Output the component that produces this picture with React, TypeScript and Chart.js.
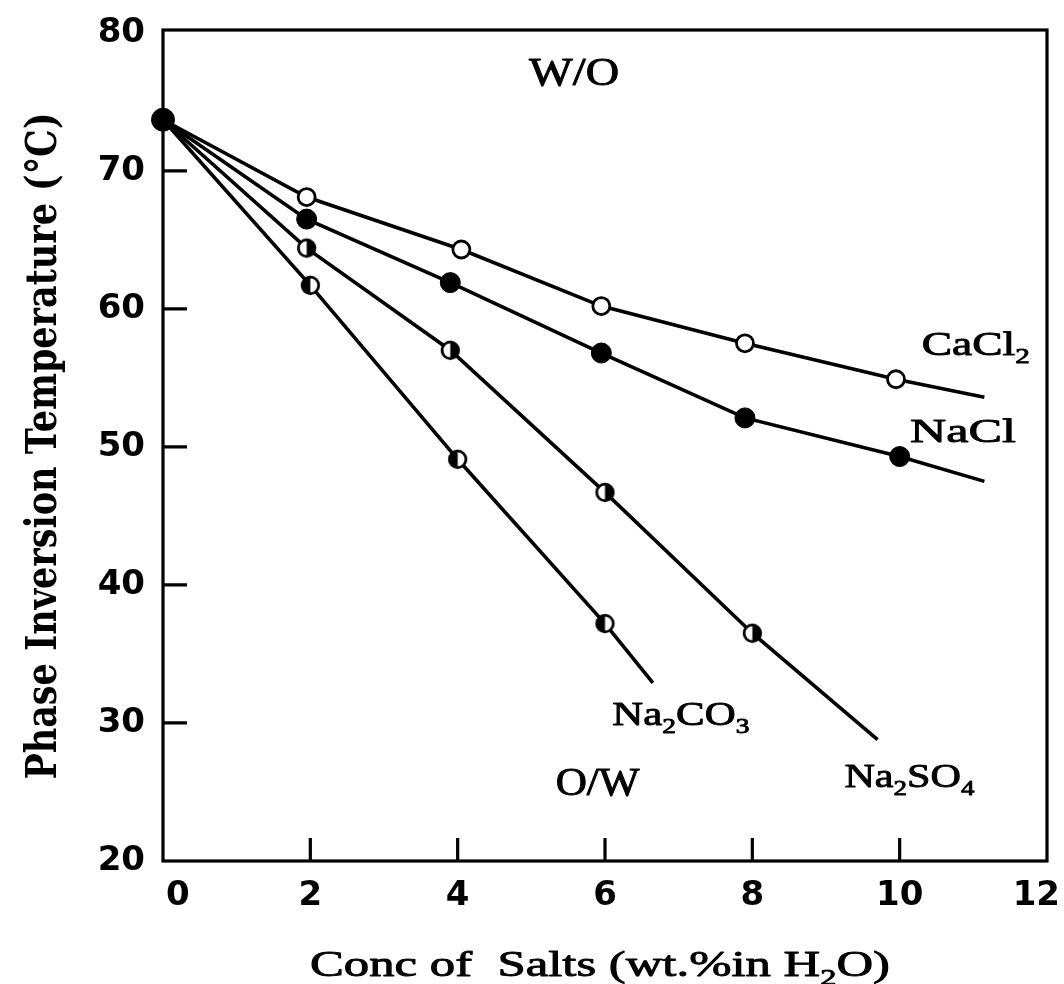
import React, { useEffect, useRef } from "react";
import { Chart, registerables } from "chart.js";

Chart.register(...registerables);

const W = 1064;
const H = 984;

// ---- data ----
const originX = [0];
const originY = [73.7];

const caCl2X = [0, 1.95, 4.05, 5.95, 7.9, 9.95, 11.15];
const caCl2Y = [73.7, 68.1, 64.3, 60.2, 57.5, 54.9, 53.6];

const naClX = [0, 1.95, 3.9, 5.95, 7.9, 10.0, 11.15];
const naClY = [73.7, 66.5, 61.9, 56.8, 52.1, 49.3, 47.5];

const na2SO4X = [0, 1.95, 3.9, 6.0, 8.0, 9.7];
const na2SO4Y = [73.7, 64.4, 57.0, 46.7, 36.5, 28.8];

const na2CO3X = [0, 2.0, 4.0, 6.0, 6.65];
const na2CO3Y = [73.7, 61.7, 49.1, 37.2, 32.9];

const xTickValues = [0, 2, 4, 6, 8, 10, 12];
const xTickLabels = ["0", "2", "4", "6", "8", "10", "12"];
const yTickValues = [20, 30, 40, 50, 60, 70, 80];
const xInnerTicks = [2, 4, 6, 8, 10];
const yInnerTicks = [30, 40, 50, 60, 70];

const yTitle = "Phase Inversion Temperature (°C)";
const xTitleSegs = [{ t: "Conc of  Salts (wt.%in H" }, { t: "2", sub: true }, { t: "O)" }];

// annotation texts anchored at data coordinates (left edge, baseline)
const annotations = [
  { segs: [{ t: "W/O" }], x: 4.97, y: 76.2, size: 40, width: 90 },
  { segs: [{ t: "O/W" }], x: 5.33, y: 24.8, size: 40, width: 84 },
  { segs: [{ t: "CaCl" }, { t: "2", sub: true }], x: 10.3, y: 56.67, size: 34, width: 108 },
  { segs: [{ t: "NaCl" }], x: 10.14, y: 50.36, size: 34, width: 106 },
  { segs: [{ t: "Na" }, { t: "2", sub: true }, { t: "CO" }, { t: "3", sub: true }], x: 6.1, y: 29.86, size: 34, width: 137 },
  { segs: [{ t: "Na" }, { t: "2", sub: true }, { t: "SO" }, { t: "4", sub: true }], x: 9.25, y: 25.36, size: 34, width: 130 },
];

const pts = (xs: number[], ys: number[]) => xs.map((x, i) => ({ x, y: ys[i] }));

type Seg = { t: string; sub?: boolean };

function drawRich(
  ctx: CanvasRenderingContext2D,
  segs: Seg[],
  x: number,
  y: number,
  size: number,
  family: string,
  weight: string,
  targetW: number | null,
  align: "left" | "center",
  stroke: number
) {
  let total = 0;
  const parts = segs.map((s) => {
    const fs = s.sub ? size * 0.64 : size;
    ctx.font = `${weight} ${fs}px ${family}`;
    const w = ctx.measureText(s.t).width;
    total += w;
    return { s, fs, w };
  });
  const sx = targetW ? targetW / total : 1;
  ctx.save();
  ctx.translate(x, y);
  ctx.scale(sx, 1);
  ctx.textBaseline = "alphabetic";
  ctx.textAlign = "left";
  ctx.fillStyle = "#000";
  ctx.strokeStyle = "#000";
  ctx.lineWidth = stroke;
  ctx.lineJoin = "round";
  let cx = align === "center" ? -total / 2 : 0;
  for (const p of parts) {
    ctx.font = `${weight} ${p.fs}px ${family}`;
    const dy = p.s.sub ? size * 0.24 : 0;
    ctx.fillText(p.s.t, cx, dy);
    if (stroke > 0) ctx.strokeText(p.s.t, cx, dy);
    cx += p.w;
  }
  ctx.restore();
}

function halfMarker(side: "left" | "right", r: number) {
  const c = document.createElement("canvas");
  const s = Math.ceil(2 * r + 4);
  c.width = s;
  c.height = s;
  const g = c.getContext("2d")!;
  const cx = s / 2;
  const cy = s / 2;
  const rr = r - 1.2;
  g.beginPath();
  g.arc(cx, cy, rr, 0, 2 * Math.PI);
  g.fillStyle = "#fff";
  g.fill();
  g.beginPath();
  if (side === "left") g.arc(cx, cy, rr, Math.PI / 2, (3 * Math.PI) / 2);
  else g.arc(cx, cy, rr, -Math.PI / 2, Math.PI / 2);
  g.closePath();
  g.fillStyle = "#000";
  g.fill();
  g.beginPath();
  g.arc(cx, cy, rr, 0, 2 * Math.PI);
  g.lineWidth = 2.8;
  g.strokeStyle = "#000";
  g.stroke();
  return c;
}

const decoPlugin = {
  id: "deco",
  beforeDatasetsDraw(chart: any) {
    const { ctx, chartArea: a, scales } = chart;
    ctx.save();
    ctx.strokeStyle = "#000";
    ctx.lineWidth = 3.2;
    ctx.strokeRect(a.left, a.top, a.right - a.left, a.bottom - a.top);
    ctx.beginPath();
    for (const v of yInnerTicks) {
      const py = scales.y.getPixelForValue(v);
      ctx.moveTo(a.left, py);
      ctx.lineTo(a.left + 24, py);
    }
    for (const v of xInnerTicks) {
      const px = scales.x.getPixelForValue(v);
      ctx.moveTo(px, a.bottom);
      ctx.lineTo(px, a.bottom - 23);
    }
    ctx.stroke();
    ctx.restore();
  },
  afterDraw(chart: any) {
    const { ctx, chartArea: a, scales } = chart;
    ctx.save();
    // x tick labels
    ctx.font = "bold 34px 'DejaVu Sans'";
    ctx.fillStyle = "#000";
    ctx.textAlign = "center";
    ctx.textBaseline = "middle";
    xTickValues.forEach((v, i) => {
      const label = xTickLabels[i];
      const w = ctx.measureText(label).width;
      let px = scales.x.getPixelForValue(v);
      px = Math.max(px, a.left + w / 2 + 3);
      px = Math.min(px, W - w / 2 - 4);
      ctx.fillText(label, px, a.bottom + 35);
    });
    // annotations
    for (const an of annotations) {
      const px = scales.x.getPixelForValue(an.x);
      const py = scales.y.getPixelForValue(an.y);
      drawRich(ctx, an.segs, px, py, an.size, "'Liberation Serif'", "normal", an.width, "left", 0.9);
    }
    // x title
    drawRich(ctx, xTitleSegs, 600, 976, 36, "'Liberation Serif'", "normal", 580, "center", 0.9);
    // y title
    ctx.save();
    ctx.translate(56, 446);
    ctx.rotate(-Math.PI / 2);
    drawRich(ctx, [{ t: yTitle }], 0, 0, 42, "'DejaVu Serif'", "bold", 667, "center", 0);
    ctx.restore();
    ctx.restore();
  },
};

export default function App() {
  const ref = useRef<HTMLCanvasElement | null>(null);

  useEffect(() => {
    if (!ref.current) return;
    const leftHalf = halfMarker("left", 9.5);
    const rightHalf = halfMarker("right", 9.5);

    const endless = (n: number, r: number) => (c: any) =>
      c.dataIndex === 0 || c.dataIndex === n - 1 ? 0 : r;

    const base = {
      showLine: true,
      borderColor: "#000",
      borderWidth: 3.6,
      tension: 0,
      clip: false as any,
      pointBorderColor: "#000",
      pointHoverRadius: 0,
    };

    const chart = new Chart(ref.current, {
      type: "scatter",
      data: {
        datasets: [
          {
            ...base,
            label: "CaCl2",
            data: pts(caCl2X, caCl2Y),
            pointStyle: "circle",
            pointRadius: endless(caCl2X.length, 8.5),
            pointBackgroundColor: "#fff",
            pointBorderWidth: 2.8,
          },
          {
            ...base,
            label: "NaCl",
            data: pts(naClX, naClY),
            pointStyle: "circle",
            pointRadius: endless(naClX.length, 10),
            pointBackgroundColor: "#000",
            pointBorderWidth: 1,
          },
          {
            ...base,
            label: "Na2SO4",
            data: pts(na2SO4X, na2SO4Y),
            pointStyle: rightHalf as any,
            pointRadius: endless(na2SO4X.length, 9.5),
          },
          {
            ...base,
            label: "Na2CO3",
            data: pts(na2CO3X, na2CO3Y),
            pointStyle: leftHalf as any,
            pointRadius: endless(na2CO3X.length, 9.5),
          },
          {
            label: "origin",
            data: pts(originX, originY),
            showLine: false,
            clip: false as any,
            pointStyle: "circle",
            pointRadius: 11.5,
            pointBackgroundColor: "#000",
            pointBorderColor: "#000",
            pointBorderWidth: 1,
          },
        ],
      },
      options: {
        responsive: false,
        animation: false,
        devicePixelRatio: 1,
        events: [],
        layout: { padding: { top: 30, right: 17, left: 0, bottom: 0 } },
        plugins: {
          legend: { display: false },
          tooltip: { enabled: false },
          title: { display: false },
        },
        scales: {
          x: {
            type: "linear",
            min: 0,
            max: 12,
            grid: { display: false, drawTicks: false },
            border: { display: false },
            ticks: { display: false },
            afterBuildTicks: (s: any) => {
              s.ticks = xTickValues.map((v) => ({ value: v }));
            },
            afterFit: (s: any) => {
              s.height = 123;
              s.paddingLeft = 0;
              s.paddingRight = 0;
            },
          },
          y: {
            type: "linear",
            min: 20,
            max: 80.2,
            grid: { display: false, drawTicks: false },
            border: { display: false },
            ticks: {
              color: "#000",
              padding: 18,
              font: { family: "'DejaVu Sans'", size: 34, weight: "bold" },
            },
            afterBuildTicks: (s: any) => {
              s.ticks = yTickValues.map((v) => ({ value: v }));
            },
            afterFit: (s: any) => {
              s.width = 163;
              s.paddingTop = 0;
              s.paddingBottom = 0;
            },
          },
        },
      },
      plugins: [decoPlugin],
    });
    return () => chart.destroy();
  }, []);

  return (
    <div style={{ position: "absolute", left: 0, top: 0, width: W, height: H, background: "#fff" }}>
      <canvas ref={ref} width={W} height={H} style={{ display: "block" }} />
    </div>
  );
}
